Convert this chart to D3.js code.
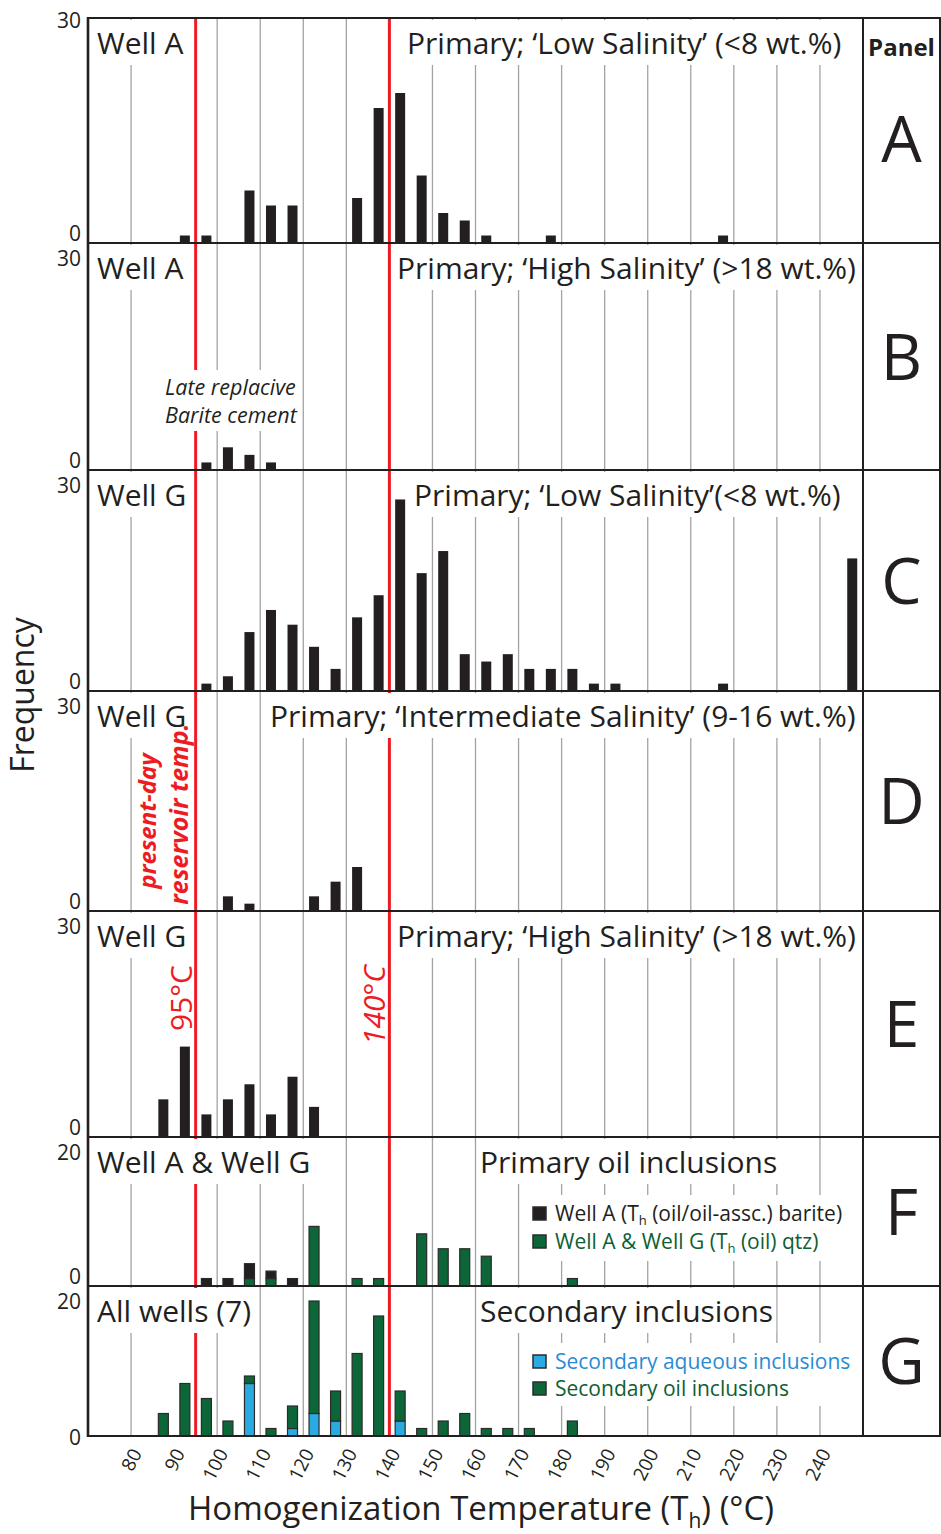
<!DOCTYPE html>
<html>
<head>
<meta charset="utf-8">
<script src="https://cdn.jsdelivr.net/npm/d3@7"></script>
<style>
  body { margin: 0; background: #fff; }
  svg { display: block; }
  text { font-family: "Open Sans", "Noto Sans", sans-serif; fill: #231f20; }
</style>
</head>
<body>
<svg id="chart" width="941" height="1534"></svg>
<script>
// bin mid-points (°C) and counts, read per panel
const tempA = [92.5, 97.5, 107.5, 112.5, 117.5, 132.5, 137.5, 142.5, 147.5, 152.5, 157.5, 162.5, 177.5, 217.5];
const countA = [1, 1, 7, 5, 5, 6, 18, 20, 9, 4, 3, 1, 1, 1];

const tempB = [97.5, 102.5, 107.5, 112.5];
const countB = [1, 3, 2, 1];

const tempC = [97.5, 102.5, 107.5, 112.5, 117.5, 122.5, 127.5, 132.5, 137.5, 142.5, 147.5, 152.5, 157.5,
  162.5, 167.5, 172.5, 177.5, 182.5, 187.5, 192.5, 217.5, 247.5];
const countC = [1, 2, 8, 11, 9, 6, 3, 10, 13, 26, 16, 19, 5, 4, 5, 3, 3, 3, 1, 1, 1, 18];

const tempD = [102.5, 107.5, 122.5, 127.5, 132.5];
const countD = [2, 1, 2, 4, 6];

const tempE = [87.5, 92.5, 97.5, 102.5, 107.5, 112.5, 117.5, 122.5];
const countE = [5, 12, 3, 5, 7, 3, 8, 4];

// panel F: stacked, quartz (oil) at bottom, barite on top
const tempF = [97.5, 102.5, 107.5, 112.5, 117.5, 122.5, 132.5, 137.5, 147.5, 152.5, 157.5, 162.5, 182.5];
const qtzF = [0, 0, 1, 1, 0, 8, 1, 1, 7, 5, 5, 4, 1];
const bariteF = [1, 1, 2, 1, 1, 0, 0, 0, 0, 0, 0, 0, 0];

// panel G: stacked, aqueous at bottom, oil on top
const tempG = [87.5, 92.5, 97.5, 102.5, 107.5, 112.5, 117.5, 122.5, 127.5, 132.5, 137.5, 142.5, 147.5,
  152.5, 157.5, 162.5, 167.5, 172.5, 182.5];
const aqueousG = [0, 0, 0, 0, 7, 0, 1, 3, 2, 0, 0, 2, 0, 0, 0, 0, 0, 0, 0];
const oilG = [3, 7, 5, 2, 1, 1, 3, 15, 4, 11, 16, 4, 1, 2, 3, 1, 1, 1, 2];

const xTicks = [80, 90, 100, 110, 120, 130, 140, 150, 160, 170, 180, 190, 200, 210, 220, 230, 240];
const gridTemps = [80, 100, 110, 120, 130, 150, 160, 170, 180, 190, 200, 210, 220, 230, 240];
const refTemps = [95, 140];
const panelLetters = ["A", "B", "C", "D", "E", "F", "G"];
const yMaxes = [30, 30, 30, 30, 30, 20, 20];
const wellLabels = ["Well A", "Well A", "Well G", "Well G", "Well G", "Well A & Well G", "All wells (7)"];
const typeLabels = [
  "Primary; ‘Low Salinity’ (<8 wt.%)",
  "Primary; ‘High Salinity’ (>18 wt.%)",
  "Primary; ‘Low Salinity’(<8 wt.%)",
  "Primary; ‘Intermediate Salinity’ (9-16 wt.%)",
  "Primary; ‘High Salinity’ (>18 wt.%)",
  "Primary oil inclusions",
  "Secondary inclusions"
];

const ink = "#231f20", red = "#ed1c24", green = "#0c6638", blue = "#29aae1";

// layout
const plotLeft = 88, plotRight = 863, colRight = 940;
const panelEdges = [18, 243, 470, 691, 911, 1137, 1286, 1436];
const typeX = [407, 397, 414, 270, 397, 480, 480];
const barW = 10;

const panels = [
  { temps: tempA, series: [countA], colors: [ink] },
  { temps: tempB, series: [countB], colors: [ink] },
  { temps: tempC, series: [countC], colors: [ink] },
  { temps: tempD, series: [countD], colors: [ink] },
  { temps: tempE, series: [countE], colors: [ink] },
  { temps: tempF, series: [qtzF, bariteF], colors: [green, ink], outlined: true },
  { temps: tempG, series: [aqueousG, oilG], colors: [blue, green], outlined: true }
];

const svg = d3.select("#chart");
const x = d3.scaleLinear().domain([70, 250]).range([plotLeft, plotRight]);
const top0 = panelEdges[0], bottom0 = panelEdges[panelEdges.length - 1];

const gridLayer = svg.append("g");
const refLayer = svg.append("g");
const barLayer = svg.append("g");
const labelLayer = svg.append("g");
const frameLayer = svg.append("g");

// grey verticals
gridLayer.selectAll("line").data(gridTemps).join("line")
  .attr("x1", d => x(d)).attr("x2", d => x(d))
  .attr("y1", top0).attr("y2", bottom0)
  .attr("stroke", "#a3a3a3").attr("stroke-width", 1.3);

// red reference lines
refLayer.selectAll("line").data(refTemps).join("line")
  .attr("x1", d => x(d)).attr("x2", d => x(d))
  .attr("y1", top0).attr("y2", bottom0)
  .attr("stroke", red).attr("stroke-width", 3);

// text with white box behind it
function boxedText(parent, px, py, str, size) {
  const g = parent.append("g");
  const t = g.append("text").attr("x", px).attr("y", py)
    .attr("font-size", size)
    .text(str);
  const b = t.node().getBBox();
  g.insert("rect", "text")
    .attr("x", b.x - 3).attr("y", b.y - 2)
    .attr("width", b.width + 6).attr("height", b.height + 4)
    .attr("fill", "#fff");
  return g;
}

panels.forEach((p, i) => {
  const top = panelEdges[i], bottom = panelEdges[i + 1];
  const y = d3.scaleLinear().domain([0, yMaxes[i]]).range([bottom, top]);
  const keys = p.series.map((s, k) => "s" + k);
  const rows = p.temps.map((t, j) => {
    const r = { t };
    keys.forEach((k, s) => r[k] = p.series[s][j]);
    return r;
  });
  const stacked = d3.stack().keys(keys)(rows);

  const g = barLayer.append("g");
  stacked.forEach((layer, s) => {
    g.selectAll(null).data(layer.filter(d => d[1] > d[0])).join("rect")
      .attr("x", d => x(d.data.t) - barW / 2)
      .attr("width", barW)
      .attr("y", d => y(d[1]))
      .attr("height", d => y(d[0]) - y(d[1]))
      .attr("fill", p.colors[s])
      .attr("stroke", p.outlined ? "#2b2b2b" : "none")
      .attr("stroke-width", 1.2);
  });

  // y tick labels (0 and max only), nudged apart where panels meet
  const ax = frameLayer.append("g").attr("transform", `translate(${plotLeft},0)`)
    .call(d3.axisLeft(y).tickValues([0, yMaxes[i]]).tickSize(0).tickPadding(7));
  ax.select(".domain").remove();
  ax.selectAll("text")
    .attr("font-size", 21).attr("font-family", "Open Sans, sans-serif").attr("fill", ink)
    .attr("dy", d => d === 0 ? (i === panels.length - 1 ? 8 : -3) : (i === 0 ? 9 : 22));

  // labels in the panel
  boxedText(labelLayer, 97, top + 36, wellLabels[i], 30);
  boxedText(labelLayer, typeX[i], top + 36, typeLabels[i], 30);

  // panel letter
  frameLayer.append("text")
    .attr("x", (plotRight + colRight) / 2)
    .attr("y", i === 0 ? (top + bottom) / 2 + 8 : (top + bottom) / 2)
    .attr("dy", "0.36em")
    .attr("text-anchor", "middle")
    .attr("font-size", 64)
    .text(panelLetters[i]);
});

// late replacive barite note (panel B)
const noteG = labelLayer.append("g");
const noteT = noteG.append("text").attr("font-size", 21.5).attr("font-style", "italic");
noteT.append("tspan").attr("x", 165).attr("y", 395).text("Late replacive");
noteT.append("tspan").attr("x", 165).attr("y", 423).text("Barite cement");
const nb = noteT.node().getBBox();
noteG.insert("rect", "text").attr("x", nb.x - 3).attr("y", nb.y - 2)
  .attr("width", nb.width + 6).attr("height", nb.height + 4).attr("fill", "#fff");

// red annotations
labelLayer.append("text")
  .attr("transform", "translate(156,821) rotate(-90)")
  .attr("text-anchor", "middle").attr("font-size", 24)
  .attr("font-weight", "bold").attr("font-style", "italic")
  .style("fill", red).text("present-day");
labelLayer.append("text")
  .attr("transform", "translate(188,814) rotate(-90)")
  .attr("text-anchor", "middle").attr("font-size", 25)
  .attr("font-weight", "bold").attr("font-style", "italic")
  .style("fill", red).text("reservoir temp.");
labelLayer.append("text")
  .attr("transform", `translate(${x(95) - 4},965) rotate(-90)`)
  .attr("text-anchor", "end").attr("font-size", 30)
  .style("fill", red).text("95°C");
labelLayer.append("text")
  .attr("transform", `translate(${x(140) - 4},965) rotate(-90)`)
  .attr("text-anchor", "end").attr("font-size", 30).attr("font-style", "italic")
  .style("fill", red).text("140°C");

// legends, each on a white box that hides the grid behind it
function legend(rows) {
  const g = labelLayer.append("g");
  rows.forEach(r => {
    g.append("rect").attr("x", 533).attr("y", r.y - 14).attr("width", 13).attr("height", 13)
      .attr("fill", r.color).attr("stroke", "#2b2b2b").attr("stroke-width", 1.5);
    const t = g.append("text").attr("x", 555).attr("y", r.y).attr("font-size", 21)
      .style("fill", r.textColor);
    r.parts.forEach(pt => {
      t.append("tspan").attr("dy", pt.dy || 0).attr("font-size", pt.sub ? 13 : null).text(pt.s);
    });
  });
  const b = g.node().getBBox();
  g.insert("rect", ":first-child").attr("x", b.x - 5).attr("y", b.y - 4)
    .attr("width", b.width + 10).attr("height", b.height + 8).attr("fill", "#fff");
}
legend([
  { y: 1221, color: ink, textColor: ink,
    parts: [{ s: "Well A (T" }, { s: "h", sub: true, dy: 4 }, { s: " (oil/oil-assc.) barite)", dy: -4 }] },
  { y: 1249, color: green, textColor: "#0d5e33",
    parts: [{ s: "Well A & Well G (T" }, { s: "h", sub: true, dy: 4 }, { s: " (oil) qtz)", dy: -4 }] }
]);
legend([
  { y: 1369, color: blue, textColor: "#2a8bd4", parts: [{ s: "Secondary aqueous inclusions" }] },
  { y: 1396, color: green, textColor: "#0d5e33", parts: [{ s: "Secondary oil inclusions" }] }
]);

// x axis
const xAx = frameLayer.append("g").attr("transform", `translate(0,${bottom0})`)
  .call(d3.axisBottom(x).tickValues(xTicks).tickSize(0));
xAx.select(".domain").remove();
xAx.selectAll("text")
  .attr("font-size", 19).attr("font-family", "Open Sans, sans-serif").attr("fill", ink)
  .attr("text-anchor", "end")
  .attr("x", 0).attr("y", 0).attr("dy", "0.35em")
  .attr("transform", "translate(5,14) rotate(-63)");

// frame
frameLayer.selectAll(".hline").data(panelEdges).join("line").attr("class", "hline")
  .attr("x1", plotLeft).attr("x2", colRight)
  .attr("y1", d => d).attr("y2", d => d)
  .attr("stroke", ink).attr("stroke-width", 2);
frameLayer.selectAll(".vline").data([plotLeft, plotRight, colRight]).join("line").attr("class", "vline")
  .attr("x1", d => d).attr("x2", d => d)
  .attr("y1", top0 - 1).attr("y2", bottom0 + 1)
  .attr("stroke", ink).attr("stroke-width", (d, i) => i === 0 ? 2.6 : 2);

// header + axis titles
frameLayer.append("text").attr("x", (plotRight + colRight) / 2).attr("y", 56)
  .attr("text-anchor", "middle").attr("font-size", 24).attr("font-weight", "bold").text("Panel");

frameLayer.append("text")
  .attr("transform", "translate(34,695) rotate(-90)")
  .attr("text-anchor", "middle").attr("font-size", 32).text("Frequency");

const xt = frameLayer.append("text").attr("x", 481).attr("y", 1520)
  .attr("text-anchor", "middle").attr("font-size", 33);
xt.append("tspan").text("Homogenization Temperature (T");
xt.append("tspan").attr("font-size", 21).attr("dy", 8).text("h");
xt.append("tspan").attr("dy", -8).text(") (°C)");
</script>
</body>
</html>
